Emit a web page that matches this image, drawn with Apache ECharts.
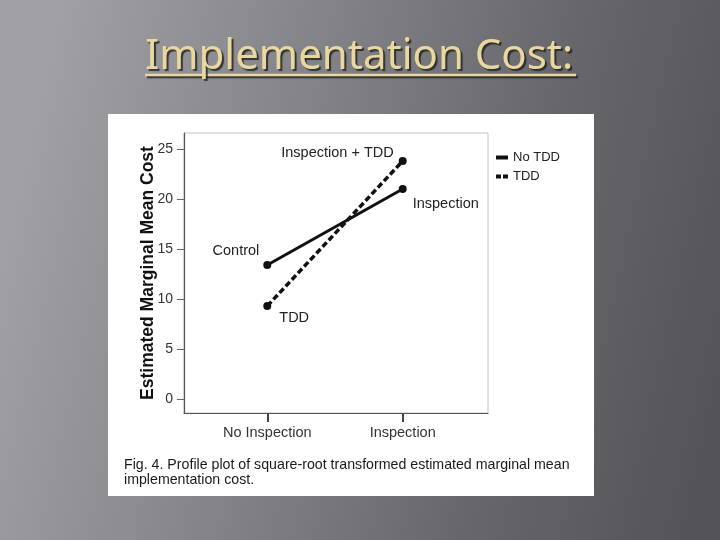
<!DOCTYPE html>
<html>
<head>
<meta charset="utf-8">
<script src="https://cdn.jsdelivr.net/npm/echarts@6/dist/echarts.min.js"></script>
<style>
html,body{margin:0;padding:0;background:#6a6a70;}
#chart{width:720px;height:540px;}
</style>
</head>
<body>
<div id="chart"></div>
<script>
// ---- data ----
var categories = ['No Inspection', 'Inspection'];
var seriesNames = ['No TDD', 'TDD'];
var noTddValues = [13.4, 21.0];
var tddValues = [9.3, 23.8];
var noTddPointLabels = ['Control', 'Inspection'];
var tddPointLabels = ['TDD', 'Inspection + TDD'];
var yTickValues = [0, 5, 10, 15, 20, 25];
var xTickValues = [0, 1];

var slideTitle = 'Implementation Cost:';
var yAxisTitle = 'Estimated Marginal Mean Cost';
var caption = 'Fig. 4. Profile plot of square-root transformed estimated marginal mean\nimplementation cost.';

var labelFont = 'Liberation Sans';
var ink = '#111';

function pts(vals, labels, labelOpts) {
  return vals.map(function (v, i) {
    return { value: [i, v], label: Object.assign({ show: true, formatter: labels[i] }, labelOpts[i]) };
  });
}

var chart = echarts.init(document.getElementById('chart'), null, { renderer: 'canvas' });

var option = {
  animation: false,
  backgroundColor: 'transparent',
  graphic: [
    {
      type: 'rect', z: -20, silent: true,
      shape: { x: 0, y: 0, width: 720, height: 540 },
      style: {
        fill: {
          type: 'linear', x: 0, y: 0.45, x2: 1, y2: 0.75,
          colorStops: [
            { offset: 0, color: '#a0a0a5' },
            { offset: 0.35, color: '#848489' },
            { offset: 0.7, color: '#66666b' },
            { offset: 1, color: '#545458' }
          ]
        }
      }
    },
    {
      type: 'rect', z: -10, silent: true,
      shape: { x: 108, y: 114, width: 486, height: 382 },
      style: { fill: '#ffffff' }
    },
    {
      type: 'line', z: 5, silent: true,
      shape: { x1: 145, y1: 75, x2: 576, y2: 75 },
      style: { stroke: '#e8d8a0', lineWidth: 2.5, shadowColor: 'rgba(30,30,30,0.8)', shadowOffsetX: 2, shadowOffsetY: 2, shadowBlur: 1 }
    }
  ],
  title: [
    {
      text: slideTitle,
      left: 145, top: 36, padding: 0,
      textStyle: {
        fontFamily: 'Noto Sans', fontSize: 42, fontWeight: 'normal', color: '#e8d8a0',
        textShadowColor: 'rgba(30,30,30,0.8)', textShadowOffsetX: 2, textShadowOffsetY: 2, textShadowBlur: 1
      }
    },
    {
      text: caption,
      left: 124, top: 458, padding: 0,
      textStyle: { fontFamily: labelFont, fontSize: 14.2, fontWeight: 'normal', color: '#1a1a1a', lineHeight: 15 }
    }
  ],
  legend: {
    orient: 'vertical',
    left: 494, top: 151, padding: 0,
    itemWidth: 12, itemHeight: 10, itemGap: 6,
    data: [
      { name: seriesNames[0] },
      { name: seriesNames[1], lineStyle: { type: [5, 2] } }
    ],
    itemStyle: { opacity: 0 },
    lineStyle: { width: 4 },
    textStyle: { fontFamily: labelFont, fontSize: 13, color: '#222' }
  },
  grid: {
    left: 184, top: 133, width: 304, height: 280,
    show: true, borderColor: '#c4c4c4', borderWidth: 1, backgroundColor: '#fff'
  },
  xAxis: {
    type: 'value',
    min: -0.615, max: 1.63,
    splitLine: { show: false },
    axisLine: { show: true, onZero: false, lineStyle: { color: '#555', width: 1.2 } },
    axisTick: { show: true, customValues: xTickValues, length: 9, lineStyle: { color: '#444', width: 2 } },
    axisLabel: {
      customValues: xTickValues, margin: 12,
      fontFamily: labelFont, fontSize: 14.5, color: '#333',
      formatter: function (v) { return categories[Math.round(v)]; }
    }
  },
  yAxis: {
    type: 'value',
    min: -1.4, max: 26.6,
    name: yAxisTitle,
    nameLocation: 'middle', nameGap: 27, nameMoveOverlap: false,
    nameTextStyle: { fontFamily: labelFont, fontSize: 17.5, fontWeight: 'bold', color: ink },
    splitLine: { show: false },
    axisLine: { show: true, onZero: false, lineStyle: { color: '#555', width: 1.2 } },
    axisTick: { show: true, customValues: yTickValues, length: 7, lineStyle: { color: '#666', width: 1 } },
    axisLabel: { customValues: yTickValues, margin: 11, fontFamily: labelFont, fontSize: 14, color: '#333' }
  },
  series: [
    {
      name: seriesNames[0], type: 'line',
      symbol: 'circle', symbolSize: 8,
      itemStyle: { color: ink },
      lineStyle: { color: ink, width: 3 },
      label: { fontFamily: labelFont, fontSize: 14.5, color: '#222' },
      data: pts(noTddValues, noTddPointLabels, [
        { position: 'left', distance: 4, offset: [0, -14] },
        { position: 'right', distance: 6, offset: [0, 15] }
      ])
    },
    {
      name: seriesNames[1], type: 'line',
      symbol: 'circle', symbolSize: 8,
      itemStyle: { color: ink },
      lineStyle: { color: ink, width: 3.5, type: [6, 3] },
      label: { fontFamily: labelFont, fontSize: 14.5, color: '#222' },
      data: pts(tddValues, tddPointLabels, [
        { position: 'right', distance: 8, offset: [0, 12] },
        { position: 'left', distance: 5, offset: [0, -8] }
      ])
    }
  ]
};
chart.setOption(option);
</script>
</body>
</html>
